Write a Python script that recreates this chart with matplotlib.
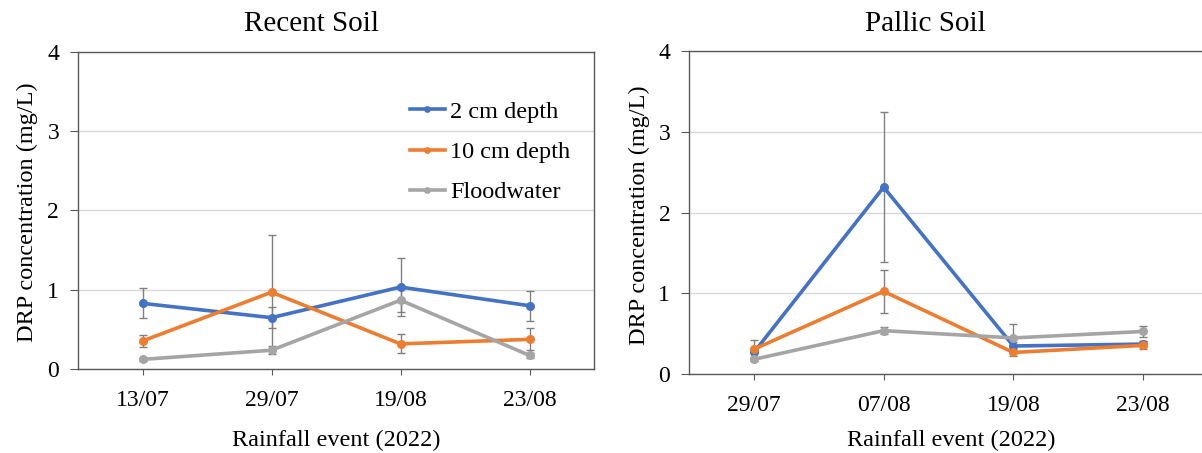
import matplotlib
matplotlib.use("Agg")
import matplotlib.pyplot as plt

plt.rcParams['font.family'] = ['Liberation Serif', 'DejaVu Serif']

series_names = ["2 cm depth", "10 cm depth", "Floodwater"]
colors = ["#4472C4", "#ED7D31", "#A5A5A5"]

recent_events = ["13/07", "29/07", "19/08", "23/08"]
recent_2cm = [0.83, 0.65, 1.035, 0.80]
recent_2cm_err = [0.19, 0.13, 0.36, 0.19]
recent_10cm = [0.356, 0.97, 0.32, 0.377]
recent_10cm_err = [0.07, 0.72, 0.12, 0.14]
recent_flood = [0.125, 0.24, 0.87, 0.175]
recent_flood_err = [0.02, 0.05, 0.15, 0.03]

pallic_events = ["29/07", "07/08", "19/08", "23/08"]
pallic_2cm = [0.27, 2.315, 0.35, 0.374]
pallic_2cm_err = [0.05, 0.93, 0.05, 0.04]
pallic_10cm = [0.31, 1.026, 0.27, 0.358]
pallic_10cm_err = [0.12, 0.27, 0.04, 0.05]
pallic_flood = [0.185, 0.54, 0.45, 0.53]
pallic_flood_err = [0.02, 0.04, 0.17, 0.07]

W, H = 1202, 453
fig = plt.figure(figsize=(W / 100, H / 100), dpi=100)

spine_c = "#595959"
fs_tick = 17
fs_lab = 17.5


def px_axes(l, r, t, b):
    return fig.add_axes([l / W, (H - b) / H, (r - l) / W, (b - t) / H])


def style(ax, events, ylab_x, xlab_x, title, title_x):
    ax.set_xlim(0, 4)
    ax.set_ylim(0, 4)
    ax.set_xticks([0.5, 1.5, 2.5, 3.5])
    ax.set_xticklabels(events)
    ax.set_yticks([0, 1, 2, 3, 4])
    ax.grid(axis='y', color="#D9D9D9", lw=1.0, zorder=0)
    ax.set_axisbelow(True)
    for s in ax.spines.values():
        s.set_color(spine_c)
        s.set_linewidth(1.0)
    ax.tick_params(axis='both', direction='out', color=spine_c, labelsize=fs_tick,
                   labelcolor='#000000')
    ax.tick_params(axis='y', length=5.5, pad=8)
    ax.tick_params(axis='x', length=4, pad=11)
    fig.text(ylab_x / W, 0.5 * (ax.get_position().y0 + ax.get_position().y1) - 0.005,
             "DRP concentration (mg/L)", rotation=90, ha='center', va='center', fontsize=fs_lab)
    fig.text(xlab_x / W, (H - 440) / H, "Rainfall event (2022)", ha='center', va='center',
             fontsize=fs_lab)
    fig.text(title_x / W, (H - 31) / H, title, ha='center', va='baseline', fontsize=21)


def draw(ax, vals, errs):
    x = [0.5, 1.5, 2.5, 3.5]
    handles = []
    for v, e, c, n in zip(vals, errs, colors, series_names):
        ax.errorbar(x, v, yerr=e, fmt='none', ecolor="#808080", elinewidth=1.0,
                    capsize=3, capthick=1.0, zorder=2)
        h, = ax.plot(x, v, color=c, lw=2.6, marker='o', markersize=5.5, label=n, zorder=3)
        handles.append(h)
    return handles


ax1 = px_axes(78, 594, 51.5, 369.3)
hs = draw(ax1, [recent_2cm, recent_10cm, recent_flood],
          [recent_2cm_err, recent_10cm_err, recent_flood_err])
style(ax1, recent_events, 27, 336, "Recent Soil", 311)
ax1.legend(handles=hs, loc='upper left', bbox_to_anchor=(0.643, 0.845), frameon=False,
           fontsize=fs_lab, handlelength=1.45, handletextpad=0.2, labelspacing=0.75,
           borderpad=0, borderaxespad=0, markerscale=0.7)

ax2 = px_axes(689, 1208, 51, 374.3)
draw(ax2, [pallic_2cm, pallic_10cm, pallic_flood],
     [pallic_2cm_err, pallic_10cm_err, pallic_flood_err])
style(ax2, pallic_events, 639, 951, "Pallic Soil", 925)

fig.savefig("out.png", dpi=100)
